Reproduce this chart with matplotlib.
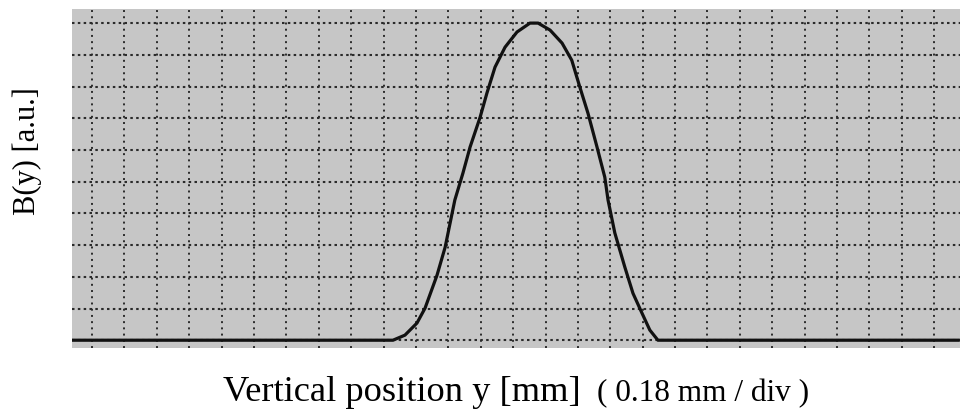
import numpy as np
import matplotlib.pyplot as plt

# trace, in grid divisions (x: 0.18 mm/div, y: arbitrary)
pos_div = [-0.62, 9.29, 9.66, 10.03, 10.28, 10.65, 10.90, 11.20, 11.45, 11.67,
           11.98, 12.19, 12.44, 12.75, 13.12, 13.52, 13.77, 14.14, 14.51, 14.81,
           15.06, 15.31, 15.59, 15.83, 15.93, 16.14, 16.45, 16.70, 16.98, 17.22,
           17.47, 26.79]
signal = [0, 0, 0.16, 0.54, 1.01, 2.05, 2.93, 4.42, 5.27, 6.09,
          7.03, 7.79, 8.61, 9.24, 9.72, 10.00, 10.00, 9.78, 9.37, 8.83,
          7.98, 7.16, 6.09, 5.14, 4.42, 3.38, 2.30, 1.48, 0.85, 0.32,
          0, 0]

xgrid = np.arange(0, 27)
ygrid = np.arange(0, 11)

plt.rcParams['font.family'] = ['Liberation Serif', 'DejaVu Serif']

fig = plt.figure(figsize=(9.65, 4.12), dpi=100)
ax = fig.add_axes([0.0746, 0.155, 0.92, 0.8228])
ax.set_facecolor('#c6c6c6')

for gx in xgrid:
    ax.axvline(gx, color='#2a2a2a', lw=1.4, ls=(0, (1, 2.2)), zorder=1)
for gy in ygrid:
    ax.axhline(gy, color='#2a2a2a', lw=1.5, ls=(0, (1.2, 1.6)), zorder=1)

ax.plot(pos_div, signal, color='#111111', lw=2.3, zorder=3, solid_capstyle='butt')

ax.set_xlim(-0.62, 26.79)
ax.set_ylim(-0.25, 10.44)
ax.set_xticks([])
ax.set_yticks([])
for s in ax.spines.values():
    s.set_visible(False)

fig.text(0.028, 0.633, 'B(y) [a.u.]', rotation=90, fontsize=22,
         ha='center', va='center')
fig.text(223 / 965, 0.026, 'Vertical position y [mm]', fontsize=26.2,
         ha='left', va='baseline')
fig.text(597 / 965, 0.026, '( 0.18 mm / div )', fontsize=22.5,
         ha='left', va='baseline')

fig.savefig('out.png', dpi=100)
